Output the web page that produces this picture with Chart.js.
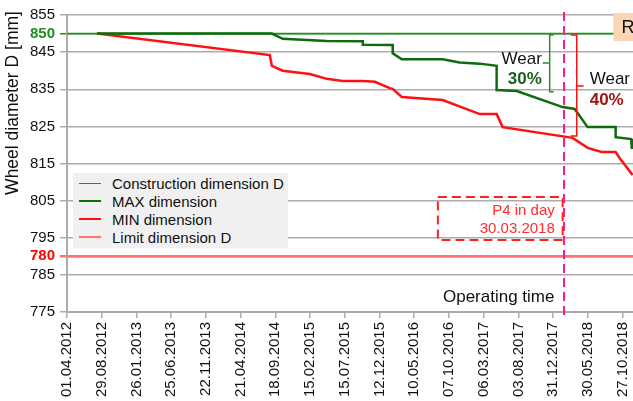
<!DOCTYPE html>
<html>
<head>
<meta charset="utf-8">
<title>Wheel diameter D</title>
<script src="https://cdn.jsdelivr.net/npm/chart.js@4.4.1/dist/chart.umd.min.js"></script>
<style>
    body { margin: 0; background: #fff; font-family: 'Liberation Sans', Arial, sans-serif; }
    #wrap { position: relative; width: 633px; height: 401px; }
    #legend {
        position: absolute; left: 73px; top: 173px; width: 215px; height: 75px;
        background: #f0f0f0; padding-top: 1px; box-sizing: border-box;
    }
    .item { height: 18px; display: flex; align-items: center; font-size: 15px; color: #111; white-space: nowrap; }
    .swatch { display: inline-block; width: 22px; height: 0; margin: 0 11px 0 6px; }
</style>
</head>
<body>
<div id="wrap">
    <canvas id="wheelChart" width="633" height="401"></canvas>
    <div id="legend"></div>
</div>
<script>
// Wheel diameter D over operating time

// X axis: days since 01.04.2012, ticks every 150 days
const xTickDays = [0, 150, 300, 450, 600, 750, 900, 1050, 1200, 1350, 1500, 1650, 1800, 1950, 2100, 2250, 2400];
const xTickLabels = ['01.04.2012', '29.08.2012', '26.01.2013', '25.06.2013', '22.11.2013', '21.04.2014',
    '18.09.2014', '15.02.2015', '15.07.2015', '12.12.2015', '10.05.2016', '07.10.2016',
    '06.03.2017', '03.08.2017', '31.12.2017', '30.05.2018', '27.10.2018'];

// Y axis
const yTickValues = [775, 785, 795, 805, 815, 825, 835, 845, 855];
const markValues = [850, 790];
const markLabels = ['850', '780'];

// Series (day, diameter)
const maxDays = [130, 885, 932, 1122, 1278, 1278, 1407, 1407, 1446, 1623, 1696, 1783, 1856, 1856, 1943, 2141, 2193, 2249, 2370, 2370, 2437, 2440];
const maxDiameter = [850, 850, 848.6, 848.0, 847.9, 847.0, 846.9, 844.7, 843.1, 843.1, 842.2, 841.9, 841.3, 834.8, 834.5, 830.2, 829.7, 824.8, 824.8, 822.1, 821.6, 818.9];

const minDays = [130, 876, 885, 932, 1049, 1122, 1191, 1278, 1330, 1394, 1407, 1446, 1623, 1783, 1856, 1882, 2184, 2249, 2309, 2370, 2387, 2443];
const minDiameter = [850, 844.2, 841.3, 840.0, 839.1, 837.8, 837.2, 837.2, 837.0, 835.3, 835.1, 832.9, 832.1, 828.3, 828.3, 824.8, 821.9, 819.2, 818.1, 818.1, 816.5, 811.9];

const constructionDays = [0, 2445];
const constructionDiameter = [850, 850];
const limitDays = [0, 2445];
const limitDiameter = [790, 790];

const FONT = "'Liberation Sans', Arial, sans-serif";
const GRID = '#acacac';
const GREEN = '#1f8f1f';
const DARK_GREEN = '#0e6b0e';
const RED = '#ff1010';
const LIGHT_RED = '#ff7272';
const PINK = '#ff1a8c';

const toPoints = (xs, ys) => xs.map((d, i) => ({ x: d, y: ys[i] }));
const tickValue = (c) => (c && c.tick ? c.tick.value : null);

// Annotations drawn on top of the lines
const wearNotes = {
    id: 'wearNotes',
    afterDatasetsDraw(chart) {
        const { ctx, chartArea, scales: { x, y } } = chart;
        const px = d => x.getPixelForValue(d);
        const py = v => y.getPixelForValue(v);
        ctx.save();

        // y axis title
        ctx.save();
        ctx.translate(13, py(831.3));
        ctx.rotate(-Math.PI / 2);
        ctx.fillStyle = '#111';
        ctx.font = `17.5px ${FONT}`;
        ctx.textAlign = 'center';
        ctx.textBaseline = 'middle';
        ctx.fillText('Wheel diameter D [mm]', 0, 0);
        ctx.restore();

        // R box in the top right corner
        ctx.fillStyle = '#fcd5b5';
        ctx.fillRect(px(2360), py(855) - 2, chartArea.right - px(2360), py(848) - py(855) + 2);
        ctx.fillStyle = '#111';
        ctx.font = `18px ${FONT}`;
        ctx.textBaseline = 'middle';
        ctx.textAlign = 'left';
        ctx.fillText('R', px(2395), py(851.6));

        // green bracket - wear of MAX
        ctx.strokeStyle = '#2e8b2e';
        ctx.lineWidth = 1.5;
        ctx.beginPath();
        ctx.moveTo(px(2102), py(849.6));
        ctx.lineTo(px(2085), py(849.6));
        ctx.lineTo(px(2085), py(834.3));
        ctx.lineTo(px(2102), py(834.3));
        ctx.moveTo(px(2085), py(842.1));
        ctx.lineTo(px(2055), py(842.1));
        ctx.stroke();

        ctx.textAlign = 'right';
        ctx.fillStyle = '#111';
        ctx.font = `17px ${FONT}`;
        ctx.fillText('Wear', px(2051), py(843.1));
        ctx.fillStyle = '#1d5e1d';
        ctx.font = `bold 17px ${FONT}`;
        ctx.fillText('30%', px(2051), py(837.6));

        // red bracket - wear of MIN
        ctx.strokeStyle = RED;
        ctx.beginPath();
        ctx.moveTo(px(2176), py(849.6));
        ctx.lineTo(px(2202), py(849.6));
        ctx.lineTo(px(2202), py(822.4));
        ctx.lineTo(px(2176), py(822.4));
        ctx.moveTo(px(2202), py(835.9));
        ctx.lineTo(px(2232), py(835.9));
        ctx.stroke();

        ctx.textAlign = 'left';
        ctx.fillStyle = '#111';
        ctx.font = `17px ${FONT}`;
        ctx.fillText('Wear', px(2258), py(837.8));
        ctx.fillStyle = '#a01414';
        ctx.font = `bold 17px ${FONT}`;
        ctx.fillText('40%', px(2258), py(832.1));

        // P4 dashed box
        ctx.setLineDash([9, 5]);
        ctx.strokeStyle = '#ff2020';
        ctx.lineWidth = 2;
        ctx.strokeRect(px(1602), py(806), px(2141) - px(1602), py(794.4) - py(806));
        ctx.setLineDash([]);
        ctx.textAlign = 'right';
        ctx.fillStyle = '#ff2d2d';
        ctx.font = `15px ${FONT}`;
        ctx.fillText('P4 in day', px(2107), py(802.2));
        ctx.fillText('30.03.2018', px(2107), py(797.4));

        // Operating time
        ctx.textAlign = 'center';
        ctx.fillStyle = '#111';
        ctx.font = `17px ${FONT}`;
        ctx.fillText('Operating time', px(1865), py(779));

        // pink dashed day marker
        ctx.strokeStyle = PINK;
        ctx.lineWidth = 2;
        ctx.setLineDash([9, 5]);
        ctx.beginPath();
        ctx.moveTo(px(2147), chartArea.top - 3);
        ctx.lineTo(px(2147), chartArea.bottom + 5);
        ctx.stroke();

        ctx.restore();
    }
};

const chart = new Chart(document.getElementById('wheelChart'), {
    type: 'line',
    data: {
        datasets: [
            {
                label: 'Construction dimension D',
                data: toPoints(constructionDays, constructionDiameter),
                borderColor: GREEN,
                borderWidth: 1.5,
                order: 2
            },
            {
                label: 'MAX dimension',
                data: toPoints(maxDays, maxDiameter),
                borderColor: DARK_GREEN,
                borderWidth: 2.5,
                order: 0
            },
            {
                label: 'MIN dimension',
                data: toPoints(minDays, minDiameter),
                borderColor: RED,
                borderWidth: 2.5,
                order: 1
            },
            {
                label: 'Limit dimension D',
                data: toPoints(limitDays, limitDiameter),
                borderColor: LIGHT_RED,
                borderWidth: 2.5,
                order: 3
            }
        ]
    },
    options: {
        responsive: false,
        animation: false,
        layout: { padding: { top: 15, right: 0, bottom: 0, left: 0 } },
        elements: {
            point: { radius: 0 },
            line: { tension: 0, fill: false }
        },
        plugins: {
            legend: { display: false },
            tooltip: { enabled: false }
        },
        scales: {
            x: {
                type: 'linear',
                min: 0,
                max: 2445,
                afterBuildTicks: (s) => { s.ticks = xTickDays.map(v => ({ value: v })); },
                afterFit: (s) => {
                    s.height = 89;
                    s.paddingLeft = 0;
                    s.paddingRight = 0;
                },
                ticks: {
                    autoSkip: false,
                    minRotation: 90,
                    maxRotation: 90,
                    padding: 4,
                    color: '#111',
                    font: { family: FONT, size: 15 },
                    callback: (v) => xTickLabels[xTickDays.indexOf(v)]
                },
                grid: {
                    drawOnChartArea: false,
                    drawTicks: true,
                    tickLength: 6,
                    color: GRID,
                    lineWidth: 1.5
                },
                border: { color: GRID, width: 2 }
            },
            y: {
                min: 775,
                max: 855,
                afterBuildTicks: (s) => {
                    s.ticks = [...yTickValues, ...markValues].sort((a, b) => a - b).map(v => ({ value: v }));
                },
                afterFit: (s) => { s.width = 67; },
                ticks: {
                    autoSkip: false,
                    padding: 5,
                    color: (c) => tickValue(c) === 850 ? GREEN : tickValue(c) === 790 ? '#ff0000' : '#111',
                    font: (c) => ({ family: FONT, size: 15, weight: markValues.includes(tickValue(c)) ? 'bold' : 'normal' }),
                    callback: (v) => {
                        const i = markValues.indexOf(v);
                        return i >= 0 ? markLabels[i] : String(v);
                    }
                },
                grid: {
                    color: (c) => tickValue(c) === 850 ? GREEN : tickValue(c) === 790 ? LIGHT_RED : GRID,
                    lineWidth: (c) => tickValue(c) === 790 ? 2.5 : 1.5,
                    tickLength: 7
                },
                border: { color: GRID, width: 2 }
            }
        }
    },
    plugins: [wearNotes]
});

// HTML legend from the datasets
document.getElementById('legend').innerHTML = chart.data.datasets.map(ds => `
    <div class="item"><span class="swatch" style="border-top:${ds.borderWidth}px solid ${ds.borderColor}"></span>${ds.label}</div>
`).join('');
</script>
</body>
</html>
